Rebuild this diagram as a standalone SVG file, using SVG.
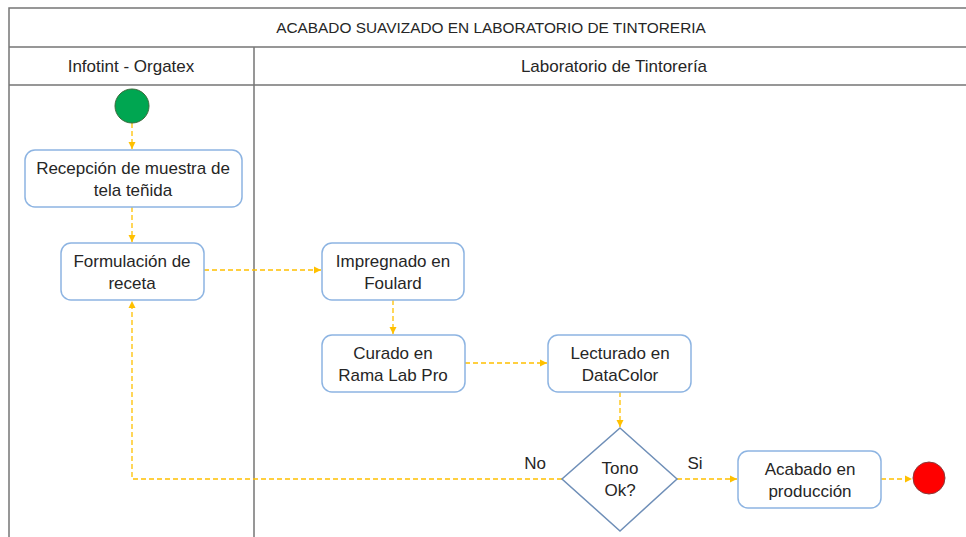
<svg xmlns="http://www.w3.org/2000/svg" width="966" height="537" viewBox="0 0 966 537">
<defs>
<marker id="ah" markerWidth="8" markerHeight="8" refX="7" refY="4" orient="auto" markerUnits="userSpaceOnUse">
<path d="M0,0.5 L7,4 L0,7.5 Z" fill="#FFC000"/>
</marker>
<style>
.lane{fill:none;stroke:#767676;stroke-width:1.5}
.box{fill:#fff;stroke:#8DB4E2;stroke-width:1.5}
.dia{fill:#fff;stroke:#6F8FB8;stroke-width:1.5}
.t{font-family:"Liberation Sans",Arial,sans-serif;font-size:17px;fill:#262626;text-anchor:middle}
.h{font-family:"Liberation Sans",Arial,sans-serif;font-size:15.4px;fill:#262626;text-anchor:middle}
.c{fill:none;stroke:#FFC000;stroke-width:1.3;stroke-dasharray:5,3}
</style>
</defs>
<rect width="966" height="537" fill="#fff"/>
<g id="pool">
<path class="lane" d="M9,537 L9,8 L970,8 M9,47 L970,47 M9,85 L970,85 M254,47 L254,537"/>
<text class="h" x="491" y="33">ACABADO SUAVIZADO EN LABORATORIO DE TINTORERIA</text>
<text class="t" x="131" y="72">Infotint - Orgatex</text>
<text class="t" x="614" y="72">Laboratorio de Tintorería</text>
</g>
<g id="connectors">
<path class="c" d="M132,123 L132,149" marker-end="url(#ah)"/>
<path class="c" d="M132,207 L132,242" marker-end="url(#ah)"/>
<path class="c" d="M204,270 L321,270" marker-end="url(#ah)"/>
<path class="c" d="M393,300 L393,334" marker-end="url(#ah)"/>
<path class="c" d="M465,363 L547,363" marker-end="url(#ah)"/>
<path class="c" d="M620,392 L620,427" marker-end="url(#ah)"/>
<path class="c" d="M562,479 L132,479 L132,301" marker-end="url(#ah)"/>
<path class="c" d="M677,479 L737,479" marker-end="url(#ah)"/>
<path class="c" d="M881,479 L912,479" marker-end="url(#ah)"/>
<text class="t" x="535" y="469">No</text>
<text class="t" x="695" y="469">Si</text>
</g>
<g id="start">
<circle cx="132" cy="106" r="17" fill="#00A651" stroke="#3B6B3B" stroke-width="1"/>
</g>
<g id="recepcion">
<rect class="box" x="25" y="150" width="217" height="57" rx="10"/>
<text class="t" x="133" y="174">Recepción de muestra de</text>
<text class="t" x="133" y="196">tela teñida</text>
</g>
<g id="formulacion">
<rect class="box" x="61" y="243" width="143" height="57" rx="10"/>
<text class="t" x="132" y="267">Formulación de</text>
<text class="t" x="132" y="289">receta</text>
</g>
<g id="impregnado">
<rect class="box" x="322" y="243" width="142" height="57" rx="10"/>
<text class="t" x="393" y="267">Impregnado en</text>
<text class="t" x="393" y="289">Foulard</text>
</g>
<g id="curado">
<rect class="box" x="322" y="335" width="143" height="57" rx="10"/>
<text class="t" x="393" y="359">Curado en</text>
<text class="t" x="393" y="381">Rama Lab Pro</text>
</g>
<g id="lecturado">
<rect class="box" x="548" y="335" width="143" height="57" rx="10"/>
<text class="t" x="620" y="359">Lecturado en</text>
<text class="t" x="620" y="381">DataColor</text>
</g>
<g id="decision">
<path class="dia" d="M620,428 L677,479 L620,531 L562,479 Z"/>
<text class="t" x="620" y="474">Tono</text>
<text class="t" x="620" y="496">Ok?</text>
</g>
<g id="acabado">
<rect class="box" x="738" y="451" width="143" height="57" rx="10"/>
<text class="t" x="810" y="475">Acabado en</text>
<text class="t" x="810" y="497">producción</text>
</g>
<g id="end">
<circle cx="929" cy="478" r="16" fill="#FF0000" stroke="#8B3A3A" stroke-width="1"/>
</g>
</svg>
